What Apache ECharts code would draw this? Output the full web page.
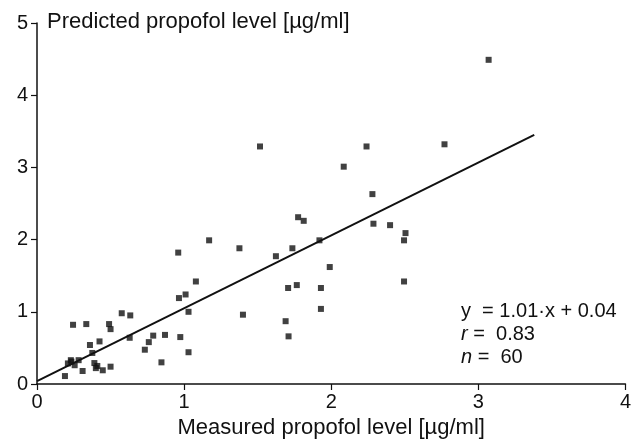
<!DOCTYPE html>
<html>
<head>
<meta charset="utf-8">
<script src="https://cdn.jsdelivr.net/npm/echarts@6/dist/echarts.min.js"></script>
<style>
  html, body { margin: 0; padding: 0; background: #fff; }
  #chart { width: 634px; height: 445px; }
</style>
</head>
<body>
<div id="chart"></div>
<script>
// measured vs predicted propofol level [µg/ml]
var measured = [3.07, 2.24, 2.77, 2.085, 2.28, 1.516, 1.775, 1.813, 2.287, 2.40,
                2.505, 2.495, 1.92, 1.99, 1.93, 1.93, 2.495, 1.736, 1.624, 1.376,
                1.17, 0.96, 1.08, 0.965, 1.01, 1.03, 1.40, 1.707, 1.766, 1.69,
                1.71, 0.974, 1.03, 0.87, 0.79, 0.76, 0.733, 0.846, 0.19, 0.245,
                0.335, 0.49, 0.50, 0.576, 0.634, 0.63, 0.36, 0.425, 0.376, 0.21,
                0.234, 0.256, 0.283, 0.23, 0.31, 0.39, 0.41, 0.447, 0.50, 0.40];
var predicted = [4.49, 3.29, 3.32, 3.01, 2.63, 3.29, 2.31, 2.26, 2.22, 2.20,
                 2.09, 1.99, 1.99, 1.62, 1.33, 1.04, 1.42, 1.88, 1.77, 1.88,
                 1.99, 1.82, 1.42, 1.19, 1.24, 1.00, 0.96, 1.33, 1.37, 0.87,
                 0.66, 0.65, 0.44, 0.68, 0.67, 0.58, 0.475, 0.30, 0.11, 0.82,
                 0.83, 0.83, 0.76, 0.98, 0.95, 0.64, 0.54, 0.59, 0.43, 0.285,
                 0.31, 0.26, 0.33, 0.33, 0.18, 0.29, 0.25, 0.19, 0.24, 0.22];
// regression line end points (y = 1.01x + 0.04)
var regLine = [[0, 0.04], [3.38, 3.45]];
var xTicks = [0, 1, 2, 3, 4];
var yTicks = [0, 1, 2, 3, 4, 5];
var statLines = ['y  = 1.01·x + 0.04', '{i|r} =  0.83', '{i|n} =  60'];

var myChart = echarts.init(document.getElementById('chart'));
var points = measured.map(function (x, i) { return [x, predicted[i]]; });
var font = 'Liberation Sans, Arial, sans-serif';

var option = {
    backgroundColor: '#fff',
    animation: false,
    grid: {
        left: 37,
        right: 5,
        top: 23,
        bottom: 61
    },
    xAxis: {
        type: 'value',
        min: xTicks[0],
        max: xTicks[xTicks.length - 1],
        interval: 1,
        name: 'Measured propofol level [µg/ml]',
        nameLocation: 'middle',
        nameGap: 33,
        nameTextStyle: { color: '#111', fontSize: 22, fontFamily: font },
        splitLine: { show: false },
        axisLine: { lineStyle: { color: '#111', width: 1.5 } },
        axisTick: { inside: false, length: 6, lineStyle: { color: '#111', width: 1.2 } },
        axisLabel: { color: '#111', fontSize: 20, fontFamily: font, margin: 8 }
    },
    yAxis: {
        type: 'value',
        min: yTicks[0],
        max: yTicks[yTicks.length - 1],
        interval: 1,
        splitLine: { show: false },
        axisLine: { lineStyle: { color: '#111', width: 1.5 } },
        axisTick: { inside: false, length: 6, lineStyle: { color: '#111', width: 1.2 } },
        axisLabel: { color: '#111', fontSize: 20, fontFamily: font, margin: 9 }
    },
    graphic: [
        {
            type: 'text',
            left: 47,
            top: 11,
            style: {
                text: 'Predicted propofol level [µg/ml]',
                fill: '#111',
                font: '22px ' + font
            }
        },
        {
            type: 'text',
            left: 461,
            top: 300,
            style: {
                text: statLines.join('\n'),
                fill: '#111',
                font: '20px ' + font,
                lineHeight: 23,
                rich: {
                    i: { fontStyle: 'italic', fontSize: 20, fontFamily: font, fill: '#111' }
                }
            }
        }
    ],
    series: [
        {
            name: 'points',
            type: 'scatter',
            symbol: 'rect',
            symbolSize: 6,
            itemStyle: { color: '#111' },
            data: points
        },
        {
            name: 'regression',
            type: 'line',
            symbol: 'none',
            lineStyle: { color: '#111', width: 2 },
            data: regLine
        }
    ]
};
myChart.setOption(option);
</script>
</body>
</html>
